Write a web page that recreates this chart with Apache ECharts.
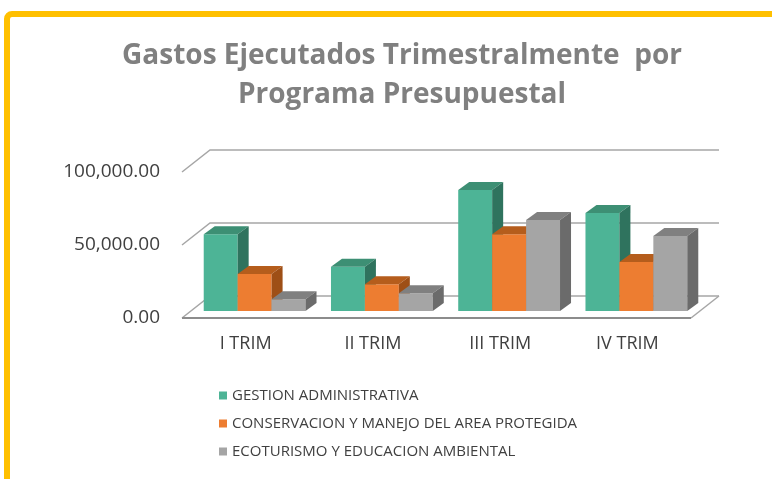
<!DOCTYPE html>
<html>
<head>
<meta charset="utf-8">
<script src="https://cdn.jsdelivr.net/npm/echarts@6/dist/echarts.min.js"></script>
<style>
  html, body { margin: 0; padding: 0; background: #fff; }
  #chart { width: 772px; height: 479px; }
</style>
</head>
<body>
<div id="chart"></div>
<script>
const categories = ['I TRIM', 'II TRIM', 'III TRIM', 'IV TRIM'];
const gestion = [52500, 30300, 82900, 67100];
const conservacion = [25300, 18300, 52500, 33600];
const ecoturismo = [8000, 12100, 62300, 51400];
const seriesNames = ['GESTION ADMINISTRATIVA', 'CONSERVACION Y MANEJO DEL AREA PROTEGIDA', 'ECOTURISMO Y EDUCACION AMBIENTAL'];
const yTicks = [0, 50000, 100000];

// cara frontal, tapa, lateral
const faces = [
  ['#4db496', '#3d8f74', '#2f735e'],
  ['#ed7d31', '#b55d1c', '#9e4f16'],
  ['#a5a5a5', '#808080', '#6b6b6b']
];

const DEPTH_X = 28, DEPTH_Y = -22;   // fondo del piso
const BAR_OFF_X = 9, BAR_OFF_Y = -7; // plano donde van las barras
const BAR_DX = 11, BAR_DY = -8;      // profundidad de cada barra
const FONT = 'Open Sans';

const chart = echarts.init(document.getElementById('chart'));

function fmt(v) {
  return v.toFixed(2).replace(/\B(?=(\d{3})+(?!\d))/g, ',');
}

// lineas de fondo y piso
function renderWall(params, api) {
  const cs = params.coordSys;
  const v = api.value(1);
  const y = api.coord([0, v])[1];
  const x0 = cs.x, x1 = cs.x + cs.width;
  const children = [{
    type: 'polyline',
    shape: { points: [[x0, y], [x0 + DEPTH_X, y + DEPTH_Y], [x1 + DEPTH_X, y + DEPTH_Y]] },
    style: { stroke: '#a6a6a6', lineWidth: 1.5, fill: null }
  }];
  if (v === 0) {
    children.push({
      type: 'line',
      shape: { x1: x1, y1: y, x2: x1 + DEPTH_X, y2: y + DEPTH_Y },
      style: { stroke: '#a6a6a6', lineWidth: 1.5 }
    });
    children.push({
      type: 'line',
      shape: { x1: x0, y1: y, x2: x1, y2: y },
      style: { stroke: '#8c8c8c', lineWidth: 2 }
    });
  }
  return { type: 'group', children };
}

function renderBar(s) {
  return function (params, api) {
    const i = api.value(0), v = api.value(1);
    const p0 = api.coord([i, 0]), p1 = api.coord([i, v]);
    const band = api.size([1, 0])[0];
    const w = band * 0.8 / 3;
    const x = p0[0] - band * 0.4 + s * w + BAR_OFF_X;
    const yb = p0[1] + BAR_OFF_Y, yt = p1[1] + BAR_OFF_Y;
    const c = faces[s];
    return {
      type: 'group',
      children: [
        { type: 'rect', shape: { x: x, y: yt, width: w, height: yb - yt }, style: { fill: c[0] } },
        { type: 'polygon', shape: { points: [[x, yt], [x + w, yt], [x + w + BAR_DX, yt + BAR_DY], [x + BAR_DX, yt + BAR_DY]] }, style: { fill: c[1] } },
        { type: 'polygon', shape: { points: [[x + w, yt], [x + w + BAR_DX, yt + BAR_DY], [x + w + BAR_DX, yb + BAR_DY], [x + w, yb]] }, style: { fill: c[2] } }
      ]
    };
  };
}

const values = [gestion, conservacion, ecoturismo];

const option = {
  animation: false,
  backgroundColor: '#fff',
  graphic: [{
    type: 'rect',
    shape: { x: 7, y: 14, width: 820, height: 520, r: 5 },
    style: { fill: null, stroke: '#ffc000', lineWidth: 6 },
    z: 100
  }],
  title: {
    text: 'Gastos Ejecutados Trimestralmente  por\nPrograma Presupuestal',
    left: 397,
    top: 32,
    textAlign: 'center',
    textStyle: { fontFamily: FONT, fontSize: 28, fontWeight: 'bold', color: '#808080', lineHeight: 39 }
  },
  legend: {
    orient: 'vertical',
    left: 219,
    top: 388,
    padding: 0,
    itemWidth: 8,
    itemHeight: 8,
    itemGap: 13,
    icon: 'rect',
    data: seriesNames,
    textStyle: { fontFamily: FONT, fontSize: 15, color: '#404040' }
  },
  grid: { left: 182, right: 81, top: 172, bottom: 161 },
  xAxis: {
    type: 'category',
    data: categories,
    axisLine: { show: false },
    axisTick: { show: false },
    axisLabel: { margin: 17, fontFamily: FONT, fontSize: 18, color: '#404040' }
  },
  yAxis: {
    type: 'value',
    min: 0,
    max: 100000,
    interval: 50000,
    splitLine: { show: false },
    axisLine: { show: false },
    axisTick: { show: false },
    axisLabel: { margin: 22, fontFamily: FONT, fontSize: 19, color: '#404040', formatter: fmt }
  },
  series: [{
    type: 'custom',
    name: 'fondo',
    renderItem: renderWall,
    data: yTicks.map(t => [0, t]),
    encode: { x: 0, y: 1 },
    silent: true
  }].concat(values.map((arr, s) => ({
    type: 'custom',
    name: seriesNames[s],
    itemStyle: { color: faces[s][0] },
    renderItem: renderBar(s),
    data: arr.map((v, i) => [i, v]),
    encode: { x: 0, y: 1 }
  })))
};

chart.setOption(option);
</script>
</body>
</html>
